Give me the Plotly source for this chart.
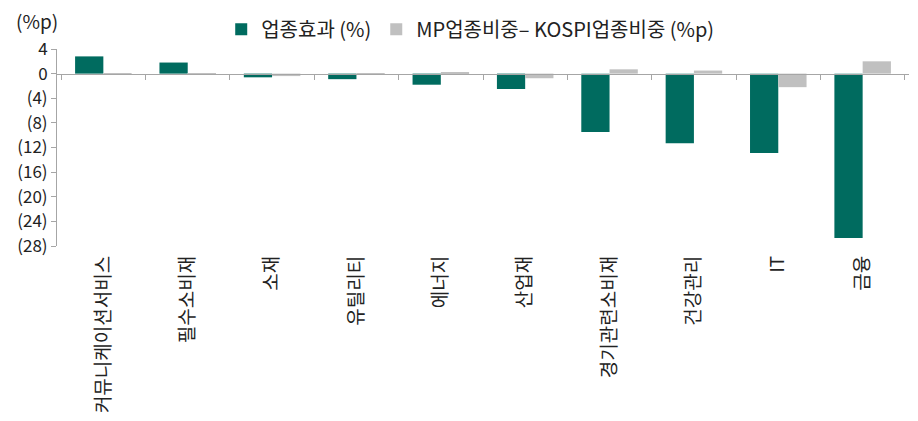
import plotly.graph_objects as go

# sectors
categories = ["커뮤니케이션서비스", "필수소비재", "소재", "유틸리티", "에너지",
              "산업재", "경기관련소비재", "건강관리", "IT", "금융"]
# 업종효과 (%)
sector_effect = [2.8, 1.8, -0.6, -0.9, -1.8, -2.5, -9.5, -11.3, -12.9, -26.7]
# MP업종비중 - KOSPI업종비중 (%p)
weight_diff = [-0.1, -0.1, -0.4, -0.05, 0.2, -0.75, 0.7, 0.5, -2.2, 2.0]

y_ticks = [4, 0, -4, -8, -12, -16, -20, -24, -28]
y_ticktext = ["4", "0", "(4)", "(8)", "(12)", "(16)", "(20)", "(24)", "(28)"]

teal = "#006B5F"
grey = "#C0C0C0"
font = "Noto Sans CJK KR"

fig = go.Figure()
fig.add_trace(go.Bar(x=categories, y=sector_effect, name="업종효과 (%)",
                     marker=dict(color=teal, line=dict(width=0))))
fig.add_trace(go.Bar(x=categories, y=weight_diff, name="MP업종비중– KOSPI업종비중 (%p)",
                     marker=dict(color=grey, line=dict(width=0))))
# invisible trace so the zero-line axis (x2) gets drawn
fig.add_trace(go.Scatter(x=categories, y=[None] * len(categories), xaxis="x2",
                         mode="markers", showlegend=False, hoverinfo="skip"))

# page body has an 8px default margin, so size/margins are reduced by 8
fig.update_layout(
    width=910, height=413,
    margin=dict(l=49, r=9, t=41, b=175, autoexpand=False),
    plot_bgcolor="white", paper_bgcolor="white",
    font=dict(family=font, size=16, color="#222222"),
    barmode="group", bargap=0.33, bargroupgap=0,
    showlegend=True,
    legend=dict(orientation="h", x=0.485, xanchor="center", y=1.1, yanchor="middle",
                font=dict(size=20), itemwidth=30,
                bgcolor="rgba(0,0,0,0)"),
    xaxis=dict(showline=False, ticks="", tickangle=-90, automargin=False,
               ticklabelstandoff=5, tickfont=dict(size=19), showgrid=False),
    # axis line through zero with ticks between categories
    xaxis2=dict(overlaying="x", anchor="free", position=28 / 32, matches="x",
                showline=True, linecolor="#A6A6A6", linewidth=1,
                ticks="outside", tickson="boundaries", ticklen=5,
                tickcolor="#A6A6A6", showticklabels=False, showgrid=False,
                type="category", automargin=False),
    yaxis=dict(range=[-28, 4], tickvals=y_ticks, ticktext=y_ticktext,
               showline=True, linecolor="#A6A6A6", ticks="outside",
               ticklen=5, tickcolor="#A6A6A6", showgrid=False, zeroline=False,
               tickfont=dict(size=17), automargin=False),
)

fig.add_annotation(text="(%p)", xref="paper", yref="paper", x=-0.05, y=1.145,
                   xanchor="left", yanchor="middle", showarrow=False,
                   font=dict(size=19))

fig.write_html("out.html")
